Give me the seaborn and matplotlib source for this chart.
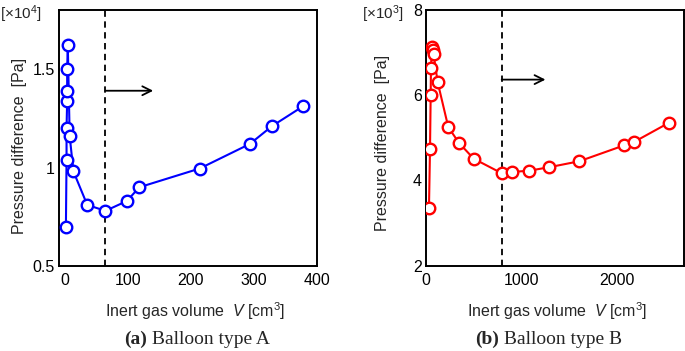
import matplotlib
matplotlib.use("Agg")
import matplotlib.pyplot as plt
import numpy as np
import pandas as pd
import seaborn as sns
from matplotlib.ticker import MultipleLocator, FixedLocator, FixedFormatter

# ---- data ----
vol_a = [1, 2, 2, 3, 3, 3, 4, 7, 13, 35, 64, 98, 118, 214, 294, 329, 378]
dp_a = [0.70, 1.04, 1.20, 1.34, 1.39, 1.50, 1.62, 1.16, 0.98, 0.81, 0.78,
        0.83, 0.90, 0.995, 1.12, 1.21, 1.31]           # x10^4 Pa
vol_b = [31, 42, 49, 52, 63, 73, 80, 122, 233, 345, 499, 792, 903, 1081,
         1287, 1604, 2071, 2176, 2542]
dp_b = [3.35, 4.74, 6.01, 6.64, 7.12, 7.06, 6.95, 6.30, 5.25, 4.88, 4.51,
        4.17, 4.20, 4.23, 4.31, 4.45, 4.82, 4.90, 5.35]  # x10^3 Pa
vline_a = 64
vline_b = 792
arrow_a = (64, 140, 1.39)
arrow_b = (792, 1250, 6.36)
yticks_a = [0.5, 1, 1.5]
yticklabels_a = ["0.5", "1", "1.5"]
yticks_b = [2, 4, 6, 8]
xticks_a = [0, 100, 200, 300, 400]
xticks_b = [0, 1000, 2000]
captions = [("(a)", " Balloon type A"), ("(b)", " Balloon type B")]
scale_labels = ["[×10$^4$]", "[×10$^3$]"]

sns.set_theme(style="white")
plt.rcParams["font.family"] = ["Liberation Sans", "DejaVu Sans"]
plt.rcParams["mathtext.fontset"] = "custom"
plt.rcParams["mathtext.rm"] = "Liberation Sans"
plt.rcParams["mathtext.it"] = "Liberation Sans:italic"
plt.rcParams["mathtext.bf"] = "Liberation Sans:bold"

fig = plt.figure(figsize=(6.85, 3.51), dpi=100)
W, H = 685, 351
def axpos(x0, x1, ytop, ybot):
    return [x0 / W, 1 - ybot / H, (x1 - x0) / W, (ybot - ytop) / H]

ax1 = fig.add_axes(axpos(59, 316.5, 10, 266))
ax2 = fig.add_axes(axpos(426, 684, 9.5, 266))

df_a = pd.DataFrame({"V": vol_a, "P": dp_a})
df_b = pd.DataFrame({"V": vol_b, "P": dp_b})

tick_fs = 11.5
for ax, df, color in [(ax1, df_a, "#0000ff"), (ax2, df_b, "#ff0000")]:
    sns.lineplot(data=df, x="V", y="P", ax=ax, estimator=None, sort=False,
                 color=color, linewidth=1.5, marker="o", markersize=8.3,
                 markerfacecolor="white", markeredgecolor=color,
                 markeredgewidth=1.7, zorder=3)
    for s in ax.spines.values():
        s.set_linewidth(1.4)
        s.set_color("black")
    ax.tick_params(axis="both", which="both", direction="in", colors="black",
                   labelsize=tick_fs, width=1.0)
    ax.tick_params(axis="x", which="major", length=6.5, pad=5)
    ax.tick_params(axis="x", which="minor", length=3.5)
    ax.tick_params(axis="y", which="major", length=4.5, pad=3)
    ax.tick_params(axis="y", which="minor", length=3)
    ax.set_ylabel("Pressure difference  [Pa]", fontsize=11.5)
    ax.set_xlabel("Inert gas volume  $V$ [cm$^3$]", fontsize=11.5)

ax1.set_xlim(-10, 400)
ax1.set_ylim(0.5, 1.8)
ax1.xaxis.set_major_locator(FixedLocator(xticks_a))
ax1.xaxis.set_minor_locator(MultipleLocator(20))
ax1.yaxis.set_major_locator(FixedLocator(yticks_a))
ax1.yaxis.set_major_formatter(FixedFormatter(yticklabels_a))
ax1.yaxis.set_minor_locator(MultipleLocator(0.1))

ax2.set_xlim(0, 2700)
ax2.set_ylim(2, 8)
ax2.xaxis.set_major_locator(FixedLocator(xticks_b))
ax2.xaxis.set_minor_locator(MultipleLocator(200))
ax2.yaxis.set_major_locator(FixedLocator(yticks_b))
ax2.yaxis.set_minor_locator(MultipleLocator(0.5))

ax1.yaxis.set_label_coords(-0.152, 0.47)
ax2.yaxis.set_label_coords(-0.167, 0.48)
ax1.xaxis.set_label_coords(0.53, -0.175)
ax2.xaxis.set_label_coords(0.51, -0.175)
for ax in (ax1, ax2):
    ax.xaxis.label.set_va("center")
    ax.yaxis.label.set_va("center")

for ax, vx, (x0, x1, ya) in [(ax1, vline_a, arrow_a), (ax2, vline_b, arrow_b)]:
    ax.axvline(vx, color="black", linestyle=(0, (3.5, 2.5)), linewidth=1.3, zorder=2)
    ax.annotate("", xy=(x1, ya), xytext=(x0, ya),
                arrowprops=dict(arrowstyle="->", color="black", lw=1.3,
                                shrinkA=0, shrinkB=0, mutation_scale=16))

fig.text(0 / W, 1 - 14 / H, scale_labels[0], fontsize=11, ha="left", va="center")
fig.text(362 / W, 1 - 14 / H, scale_labels[1], fontsize=11, ha="left", va="center")

cap_fs = 14
renderer = fig.canvas.get_renderer()
for (bold, rest), cx in zip(captions, [197, 549]):
    t = fig.text(0, 1 - 339 / H, bold, fontsize=cap_fs,
                 family="Liberation Serif", fontweight="bold", ha="left", va="center")
    r = fig.text(0, 1 - 339 / H, rest, fontsize=cap_fs,
                 family="Liberation Serif", ha="left", va="center")
    w1 = t.get_window_extent(renderer).width
    w2 = r.get_window_extent(renderer).width
    x0 = cx - (w1 + w2) / 2
    t.set_x(x0 / W)
    r.set_x((x0 + w1) / W)

fig.savefig("out.png", dpi=100)
